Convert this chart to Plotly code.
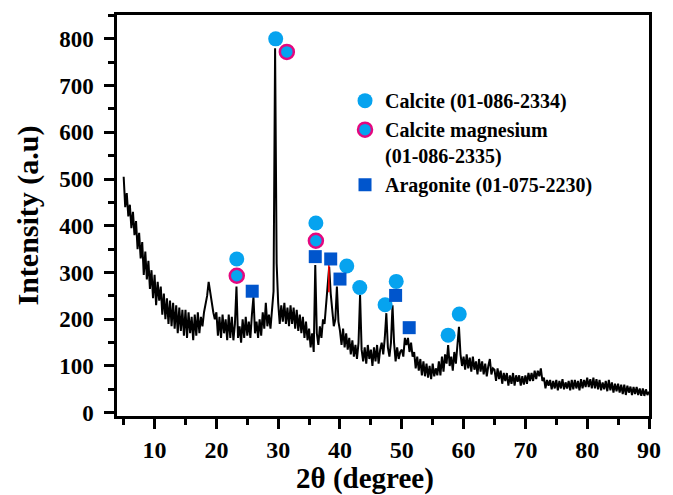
import plotly.graph_objects as go

# XRD scan: start angle and step of the 2-theta scan, with intensities
scan_start = 5.0
scan_step = 0.25
intensity = [
    505, 440, 470, 420,   # 5
    445, 395, 430, 380,   # 6
    410, 350, 385, 330,   # 7
    365, 295, 345, 285,   # 8
    325, 265, 305, 245,   # 9
    295, 230, 280, 240,   # 10
    270, 210, 255, 200,   # 11
    245, 190, 240, 185,   # 12
    235, 180, 230, 170,   # 13
    225, 175, 220, 165,   # 14
    220, 160, 215, 170,   # 15
    205, 155, 210, 165,   # 16
    215, 170, 205, 185,   # 17
    215, 235, 250, 280,   # 18
    255, 230, 215, 200,   # 19
    215, 165, 205, 160,   # 20
    210, 170, 200, 155,   # 21
    210, 160, 205, 155,   # 22
    190, 270, 160, 185,   # 23
    150, 200, 160, 205,   # 24
    165, 195, 160, 210,   # 25
    248, 170, 195, 160,   # 26
    200, 165, 215, 180,   # 27
    235, 185, 210, 180,   # 28
    215, 260, 780, 320,   # 29
    235, 190, 230, 195,   # 30
    235, 190, 225, 185,   # 31
    230, 190, 225, 180,   # 32
    220, 175, 210, 170,   # 33
    205, 160, 195, 155,   # 34
    180, 140, 170, 130,   # 35
    316, 170, 145, 185,   # 36
    160, 200, 190, 230,   # 37
    270, 312, 255, 210,   # 38
    185, 200, 270, 195,   # 39
    175, 145, 180, 140,   # 40
    170, 135, 160, 125,   # 41
    155, 120, 145, 115,   # 42
    150, 252, 135, 110,   # 43
    140, 105, 145, 115,   # 44
    135, 100, 140, 110,   # 45
    145, 105, 135, 150,   # 46
    125, 160, 213, 140,   # 47
    120, 150, 230, 150,   # 48
    110, 140, 115, 130,   # 49
    135, 120, 160, 145,   # 50
    160, 130, 150, 120,   # 51
    130, 95, 120, 90,     # 52
    115, 80, 110, 78,     # 53
    105, 75, 100, 72,     # 54
    105, 78, 95, 80,      # 55
    110, 80, 120, 88,     # 56
    125, 105, 145, 100,   # 57
    120, 90, 130, 105,    # 58
    150, 184, 125, 100,   # 59
    120, 92, 125, 95,     # 60
    118, 88, 120, 92,     # 61
    110, 82, 115, 88,     # 62
    110, 82, 105, 78,     # 63
    100, 115, 82, 95,     # 64
    92, 68, 95, 72,       # 65
    90, 62, 85, 68,       # 66
    85, 58, 80, 62,       # 67
    85, 58, 80, 66,       # 68
    80, 58, 78, 60,       # 69
    80, 62, 85, 68,       # 70
    85, 68, 90, 72,       # 71
    90, 78, 95, 68,       # 72
    75, 52, 70, 58,       # 73
    70, 50, 68, 52,       # 74
    70, 48, 68, 52,       # 75
    72, 50, 65, 52,       # 76
    68, 48, 70, 50,       # 77
    70, 52, 68, 48,       # 78
    72, 52, 70, 55,       # 79
    75, 55, 72, 52,       # 80
    75, 52, 72, 50,       # 81
    70, 48, 65, 50,       # 82
    68, 46, 70, 48,       # 83
    65, 43, 62, 46,       # 84
    62, 43, 60, 40,       # 85
    60, 38, 58, 43,       # 86
    56, 38, 55, 40,       # 87
    55, 38, 52, 36,       # 88
    52, 36, 50, 38,       # 89
    45,                   # 90
]
two_theta = [scan_start + scan_step * i for i in range(len(intensity))]

# Phase markers
calcite_x = [29.6, 23.3, 36.1, 41.1, 43.2, 47.3, 49.1, 57.5, 59.3]
calcite_y = [800, 329, 406, 314, 268, 231, 281, 166, 211]
calcite_mg_x = [31.4, 23.3, 36.1]
calcite_mg_y = [772, 293, 368]
aragonite_x = [25.8, 36.0, 38.5, 40.0, 49.0, 51.2]
aragonite_y = [260, 334, 329, 286, 251, 182]
red_x = [38.2, 38.2]
red_y = [258, 322]

x_ticks = [10, 20, 30, 40, 50, 60, 70, 80, 90]
y_ticks = [0, 100, 200, 300, 400, 500, 600, 700, 800]

FONT = "Liberation Serif, Times New Roman, serif"
CAL = "#06a3ef"
MAG = "#e4087f"
ARA = "#0055cc"

fig = go.Figure()
fig.add_trace(go.Scatter(x=two_theta, y=intensity, mode="lines",
                         line=dict(color="black", width=2), showlegend=False, hoverinfo="skip"))
fig.add_trace(go.Scatter(x=red_x, y=red_y, mode="lines",
                         line=dict(color="red", width=1.6), showlegend=False))
fig.add_trace(go.Scatter(x=calcite_x, y=calcite_y, mode="markers", name="Calcite (01-086-2334)",
                         marker=dict(symbol="circle", size=15, color=CAL, line=dict(width=0))))
fig.add_trace(go.Scatter(x=calcite_mg_x, y=calcite_mg_y, mode="markers",
                         name="Calcite magnesium<br>(01-086-2335)",
                         marker=dict(symbol="circle", size=14, color=CAL, line=dict(width=2.5, color=MAG))))
fig.add_trace(go.Scatter(x=aragonite_x, y=aragonite_y, mode="markers", name="Aragonite (01-075-2230)",
                         marker=dict(symbol="square", size=13, color=ARA, line=dict(width=0))))

axis_common = dict(
    showgrid=False, zeroline=False, showline=True, linecolor="black", linewidth=2.5,
    mirror=True, ticks="outside", ticklen=10, tickwidth=2.5, tickcolor="black",
)

fig.update_layout(
    width=673, height=495,
    margin=dict(l=117, r=17, t=15, b=79),
    paper_bgcolor="white", plot_bgcolor="white",
    font=dict(family=FONT, color="black"),
    xaxis=dict(range=[3.92, 90], tickvals=x_ticks,
               tickfont=dict(family=FONT, size=24, color="black", weight="bold"),
               minor=dict(ticks="outside", ticklen=6, tickwidth=2.5, tickcolor="black", tick0=5, dtick=5),
               ticklabelstandoff=0, **axis_common),
    yaxis=dict(range=[-7, 851], tickvals=y_ticks,
               tickfont=dict(family=FONT, size=23, color="black", weight="bold"),
               minor=dict(ticks="outside", ticklen=6, tickwidth=2.5, tickcolor="black", tick0=0, dtick=50),
               ticklabelstandoff=6,
               title=dict(text="Intensity (a.u)", font=dict(family=FONT, size=30, weight="bold"), standoff=12),
               **axis_common),
    legend=dict(x=0.4286, y=0.835, xanchor="left", yanchor="top", valign="top",
                bgcolor="rgba(0,0,0,0)", font=dict(family=FONT, size=20, color="black", weight="bold")),
    annotations=[dict(text="2θ (degree)", xref="paper", yref="paper", x=0.466, y=-0.157,
                      xanchor="center", yanchor="middle", showarrow=False,
                      font=dict(family=FONT, size=29, color="black", weight="bold"))],
)

fig.write_html("out.html")
